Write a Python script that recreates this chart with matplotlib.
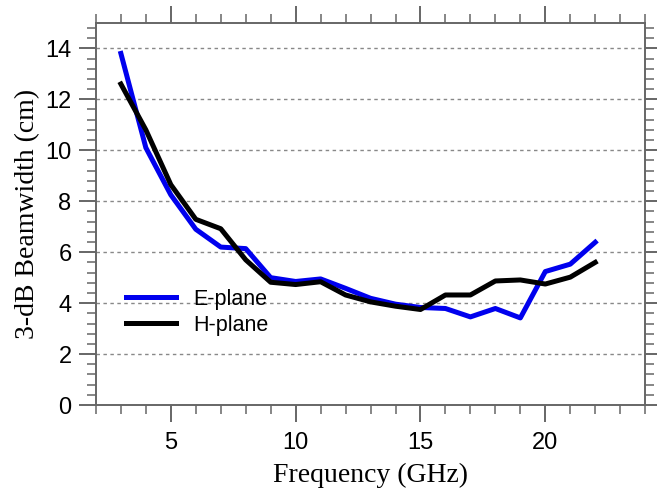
import matplotlib
matplotlib.use("Agg")
import matplotlib.pyplot as plt
from matplotlib.ticker import MultipleLocator

# beamwidth vs frequency, E- and H-plane
freq_ghz = [3, 4, 5, 6, 7, 8, 9, 10, 11, 12, 13, 14, 15, 16, 17, 18, 19, 20, 21, 22]
e_plane = [13.8, 10.1, 8.25, 6.9, 6.2, 6.14, 5.0, 4.85, 4.95, 4.58, 4.19, 3.96, 3.83,
           3.79, 3.46, 3.79, 3.42, 5.24, 5.53, 6.39]
h_plane = [12.6, 10.8, 8.65, 7.29, 6.92, 5.7, 4.82, 4.73, 4.84, 4.32, 4.05, 3.88, 3.75,
           4.32, 4.32, 4.87, 4.91, 4.75, 5.02, 5.6]

spine_color = "#666666"

fig = plt.figure(figsize=(6.57, 4.97), dpi=100)
ax = fig.add_axes([0.146, 0.185, 0.836, 0.769])

ax.plot(freq_ghz, e_plane, color="#0000ee", lw=3.6, label="E-plane", zorder=3)
ax.plot(freq_ghz, h_plane, color="black", lw=3.6, label="H-plane", zorder=4)

ax.set_xlim(2, 24)
ax.set_ylim(0, 15)
ax.xaxis.set_major_locator(MultipleLocator(5))
ax.xaxis.set_minor_locator(MultipleLocator(1))
ax.yaxis.set_major_locator(MultipleLocator(2))
ax.yaxis.set_minor_locator(MultipleLocator(0.4))

# dotted grid at the major y ticks only (skip zero)
for yv in range(2, 15, 2):
    ax.axhline(yv, color="#888888", lw=1.0, ls=(0, (2.5, 2.5)), zorder=1)

for sp in ax.spines.values():
    sp.set_color(spine_color)
    sp.set_linewidth(1.4)

ax.tick_params(which="both", direction="out", colors=spine_color,
               top=True, right=True, labeltop=False, labelright=False)
ax.tick_params(which="major", length=12.5, width=1.4, labelsize=17,
               labelcolor="black", pad=5)
ax.tick_params(which="minor", length=6.5, width=1.1)
ax.tick_params(axis="x", which="major", pad=7)
for lab in ax.get_xticklabels() + ax.get_yticklabels():
    lab.set_fontfamily(["Liberation Sans", "DejaVu Sans"])

serif = ["Liberation Serif", "DejaVu Serif"]
ax.set_xlabel("Frequency (GHz)", fontsize=20, family=serif, labelpad=6)
ax.set_ylabel("3-dB Beamwidth (cm)", fontsize=20, family=serif, labelpad=4)

leg = ax.legend(loc="lower left", bbox_to_anchor=(0.02, 0.13), frameon=False,
                handlelength=2.3, handletextpad=0.8, labelspacing=0.25,
                prop={"family": ["Liberation Sans", "DejaVu Sans"], "size": 15.5})

fig.savefig("out.png", dpi=100)
